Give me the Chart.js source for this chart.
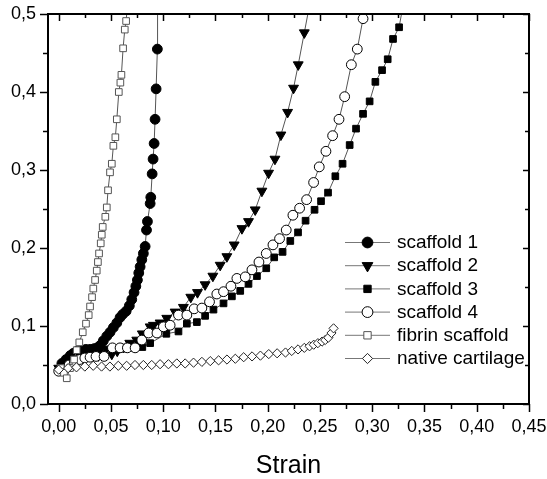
<!DOCTYPE html>
<html><head><meta charset="utf-8">
<script src="https://cdn.jsdelivr.net/npm/chart.js"></script>
<style>html,body{margin:0;padding:0;background:#fff;}canvas{display:block;}</style>
</head><body>
<canvas id="c" width="547" height="479"></canvas>
<script>
// ---- data ----
const seriesNames = ['scaffold 1','scaffold 2','scaffold 3','scaffold 4','fibrin scaffold','native cartilage'];

const s1x = [0.003,0.007,0.011,0.014,0.018,0.022,0.026,0.030,0.034,0.037,0.0396,0.0427,0.0460,0.0491,0.0523,0.0556,0.0587,0.0613,0.0645,0.0676,0.0699,0.0721,0.0738,0.0753,0.0766,0.0779,0.0795,0.0810,0.0827,0.0840,0.0849,0.0875,0.0881,0.0894,0.0903,0.0913,0.0922,0.0932,0.0944,0.0946];
const s1y = [0.052,0.057,0.062,0.065,0.068,0.069,0.070,0.070,0.071,0.072,0.075,0.081,0.087,0.092,0.098,0.104,0.111,0.115,0.119,0.126,0.134,0.143,0.151,0.159,0.168,0.176,0.185,0.193,0.202,0.223,0.234,0.257,0.265,0.295,0.314,0.334,0.365,0.404,0.455,0.520];

const s2x = [0.000,0.005,0.010,0.015,0.020,0.026,0.032,0.038,0.044,0.0508,0.056,0.062,0.068,0.0747,0.080,0.0875,0.0906,0.097,0.1034,0.1114,0.1193,0.1264,0.1328,0.1401,0.1475,0.1545,0.1609,0.1679,0.1753,0.1816,0.1880,0.1944,0.2008,0.2069,0.2126,0.2190,0.2247,0.2292,0.2350,0.2405];
const s2y = [0.046,0.051,0.055,0.058,0.060,0.061,0.062,0.062,0.063,0.064,0.068,0.073,0.078,0.082,0.090,0.099,0.101,0.104,0.110,0.118,0.124,0.137,0.143,0.153,0.164,0.178,0.189,0.204,0.225,0.234,0.249,0.273,0.296,0.314,0.345,0.374,0.405,0.435,0.476,0.515];

const s3x = [0.003,0.008,0.012,0.016,0.020,0.025,0.030,0.035,0.040,0.047,0.055,0.063,0.072,0.080,0.0875,0.103,0.1146,0.1226,0.1322,0.1401,0.1481,0.1577,0.1657,0.1737,0.1816,0.1897,0.1986,0.2062,0.2142,0.2216,0.2290,0.2362,0.2448,0.2510,0.2577,0.2647,0.2716,0.2784,0.2845,0.2912,0.2975,0.3030,0.3094,0.3148,0.3199,0.3257,0.3300];
const s3y = [0.050,0.058,0.063,0.066,0.068,0.069,0.070,0.070,0.070,0.070,0.070,0.071,0.072,0.073,0.078,0.090,0.093,0.103,0.105,0.113,0.121,0.129,0.138,0.145,0.154,0.164,0.174,0.188,0.195,0.209,0.220,0.235,0.249,0.260,0.271,0.292,0.308,0.332,0.353,0.372,0.388,0.413,0.428,0.442,0.468,0.483,0.515];

const s4x = [0.000,0.005,0.010,0.015,0.020,0.025,0.030,0.0357,0.0434,0.0514,0.0587,0.0657,0.0731,0.0795,0.0860,0.0940,0.1002,0.1066,0.1146,0.1226,0.1296,0.1370,0.1443,0.1513,0.1577,0.1648,0.1705,0.1785,0.1849,0.1916,0.1986,0.2050,0.2113,0.2177,0.2241,0.2305,0.2372,0.2439,0.2493,0.2557,0.2621,0.2682,0.2736,0.2800,0.2857,0.2912,0.2935];
const s4y = [0.042,0.045,0.050,0.054,0.057,0.059,0.060,0.061,0.061,0.072,0.072,0.072,0.072,0.082,0.091,0.091,0.099,0.101,0.114,0.114,0.122,0.123,0.131,0.141,0.144,0.151,0.161,0.163,0.172,0.182,0.193,0.204,0.212,0.223,0.242,0.251,0.262,0.284,0.304,0.324,0.344,0.365,0.394,0.435,0.455,0.494,0.515];

const fibX = [0.002,0.005,0.0077,0.0108,0.0147,0.0172,0.0197,0.0230,0.0261,0.0287,0.0300,0.0319,0.0331,0.0348,0.0364,0.0375,0.0386,0.0402,0.0412,0.0421,0.0446,0.0460,0.0472,0.0491,0.0508,0.0523,0.0542,0.0556,0.0575,0.0590,0.0600,0.0616,0.0632,0.0645,0.0660];
const fibY = [0.046,0.040,0.033,0.046,0.057,0.069,0.079,0.092,0.103,0.114,0.125,0.137,0.148,0.159,0.171,0.182,0.193,0.206,0.217,0.227,0.240,0.252,0.274,0.297,0.308,0.331,0.342,0.365,0.400,0.412,0.422,0.456,0.480,0.491,0.515];

const natX = [0.000,0.009,0.017,0.025,0.033,0.041,0.049,0.057,0.065,0.073,0.081,0.089,0.097,0.105,0.113,0.121,0.129,0.137,0.145,0.153,0.161,0.169,0.177,0.185,0.193,0.201,0.209,0.217,0.223,0.229,0.235,0.240,0.244,0.248,0.252,0.255,0.258,0.261,0.263];
const natY = [0.044,0.046,0.047,0.048,0.049,0.048,0.048,0.049,0.049,0.050,0.050,0.050,0.051,0.051,0.052,0.052,0.053,0.054,0.055,0.056,0.057,0.058,0.060,0.061,0.062,0.064,0.065,0.066,0.068,0.070,0.072,0.074,0.076,0.078,0.080,0.082,0.085,0.091,0.097];

const xTickValues = [0,0.05,0.10,0.15,0.20,0.25,0.30,0.35,0.40,0.45];
const xTickLabels = ['0,00','0,05','0,10','0,15','0,20','0,25','0,30','0,35','0,40','0,45'];
const xMinorTicks = [0.025,0.075,0.125,0.175,0.225,0.275,0.325,0.375,0.425];
const yTickValues = [0,0.1,0.2,0.3,0.4,0.5];
const yTickLabels = ['0,0','0,1','0,2','0,3','0,4','0,5'];
const yMinorTicks = [0.05,0.15,0.25,0.35,0.45];
const xTitle = 'Strain';

// ---- chart ----
const FONT = "'Liberation Sans', Arial, sans-serif";
const pts = (xs, ys) => xs.map((x, i) => ({x: x, y: ys[i]}));
const LINE = '#555';

function ds(i, data, style, r, fill, stroke, rot) {
  return {
    label: seriesNames[i], data: data, showLine: true, tension: 0,
    borderColor: LINE, borderWidth: 1,
    pointStyle: style, pointRadius: r, pointHoverRadius: r, pointRotation: rot || 0,
    pointBackgroundColor: fill, pointBorderColor: stroke, pointBorderWidth: 1,
    order: 10 - i
  };
}

const datasets = [
  ds(0, pts(s1x, s1y), 'circle', 4.9, '#000', '#000'),
  ds(1, pts(s2x, s2y), 'triangle', 5.7, '#000', '#000', 180),
  ds(2, pts(s3x, s3y), 'rect', 4.7, '#000', '#000'),
  ds(3, pts(s4x, s4y), 'circle', 4.9, '#fff', '#000'),
  ds(4, pts(fibX, fibY), 'rect', 4.7, '#fff', '#555'),
  ds(5, pts(natX, natY), 'rectRot', 4.6, '#fff', '#222')
];

function markPath(ctx, style, r, rot, x, y) {
  ctx.beginPath();
  if (style === 'circle') {
    ctx.arc(x, y, r, 0, Math.PI * 2);
  } else if (style === 'triangle') {
    let a = (rot || 0) * Math.PI / 180;
    for (let k = 0; k < 3; k++) {
      const px = x + Math.sin(a) * r, py = y - Math.cos(a) * r;
      if (k === 0) ctx.moveTo(px, py); else ctx.lineTo(px, py);
      a += 2 * Math.PI / 3;
    }
  } else if (style === 'rect') {
    const s = Math.SQRT1_2 * r;
    ctx.rect(x - s, y - s, 2 * s, 2 * s);
  } else if (style === 'rectRot') {
    ctx.moveTo(x - r, y); ctx.lineTo(x, y - r); ctx.lineTo(x + r, y); ctx.lineTo(x, y + r);
  }
  ctx.closePath();
}

const framePlugin = {
  id: 'frame',
  afterDraw(chart) {
    const ctx = chart.ctx, a = chart.chartArea, xs = chart.scales.x, ys = chart.scales.y;
    ctx.save();
    ctx.strokeStyle = '#000';
    ctx.lineWidth = 2;
    ctx.strokeRect(a.left, a.top, a.right - a.left, a.bottom - a.top);
    ctx.lineWidth = 1.5;
    const seg = (x1, y1, x2, y2) => { ctx.beginPath(); ctx.moveTo(x1, y1); ctx.lineTo(x2, y2); ctx.stroke(); };
    xTickValues.forEach(v => { const p = Math.round(xs.getPixelForValue(v)) + 0.5; seg(p, a.bottom, p, a.bottom + 8); seg(p, a.top, p, a.top + 7); });
    xMinorTicks.forEach(v => { const p = Math.round(xs.getPixelForValue(v)) + 0.5; seg(p, a.bottom, p, a.bottom + 5); seg(p, a.top, p, a.top + 4); });
    yTickValues.forEach(v => { const p = Math.round(ys.getPixelForValue(v)) + 0.5; seg(a.left - 8, p, a.left, p); seg(a.right - 6, p, a.right, p); });
    yMinorTicks.forEach(v => { const p = Math.round(ys.getPixelForValue(v)) + 0.5; seg(a.left - 5, p, a.left, p); seg(a.right - 4, p, a.right, p); });
    ctx.restore();
  }
};

const legendPlugin = {
  id: 'customLegend',
  afterDraw(chart) {
    const ctx = chart.ctx;
    const x0 = 345, x1 = 390, xm = 367.5, tx = 397, y0 = 242, dy = 23.2;
    ctx.save();
    chart.data.datasets.forEach((d, i) => {
      const y = y0 + i * dy;
      ctx.strokeStyle = '#777'; ctx.lineWidth = 1;
      ctx.beginPath(); ctx.moveTo(x0, y + 0.5); ctx.lineTo(x1, y + 0.5); ctx.stroke();
      markPath(ctx, d.pointStyle, d.pointRadius + 0.5, d.pointRotation, xm, y + 0.5);
      ctx.fillStyle = d.pointBackgroundColor; ctx.fill();
      ctx.strokeStyle = d.pointBorderColor; ctx.lineWidth = 1; ctx.stroke();
      ctx.fillStyle = '#000';
      ctx.font = '19px ' + FONT;
      ctx.textBaseline = 'middle'; ctx.textAlign = 'left';
      ctx.fillText(d.label, tx, y + 1);
    });
    ctx.restore();
  }
};

new Chart(document.getElementById('c'), {
  type: 'scatter',
  data: { datasets: datasets },
  plugins: [framePlugin, legendPlugin],
  options: {
    responsive: false, animation: false, devicePixelRatio: 1,
    layout: { padding: { top: 14, right: 18, left: 0, bottom: 0 } },
    plugins: { legend: { display: false }, tooltip: { enabled: false } },
    scales: {
      x: {
        type: 'linear', min: -0.01025, max: 0.45,
        afterFit: s => { s.height = 75; s.paddingLeft = 0; s.paddingRight = 0; },
        afterBuildTicks: s => { s.ticks = xTickValues.map(v => ({ value: v })); },
        ticks: { callback: v => xTickLabels[xTickValues.indexOf(v)], font: { family: FONT, size: 18 }, color: '#000', padding: 12, maxRotation: 0, autoSkip: false },
        grid: { display: false, drawTicks: false },
        border: { display: false },
        title: { display: true, text: xTitle, font: { family: FONT, size: 25 }, color: '#000', padding: { top: 0, bottom: -2 } }
      },
      y: {
        type: 'linear', min: 0, max: 0.5,
        afterFit: s => { s.width = 48; s.paddingTop = 0; s.paddingBottom = 0; },
        afterBuildTicks: s => { s.ticks = yTickValues.map(v => ({ value: v })); },
        ticks: { callback: v => yTickLabels[yTickValues.indexOf(v)], font: { family: FONT, size: 18 }, color: '#000', padding: 12, autoSkip: false },
        grid: { display: false, drawTicks: false },
        border: { display: false }
      }
    }
  }
});
</script>
</body></html>
